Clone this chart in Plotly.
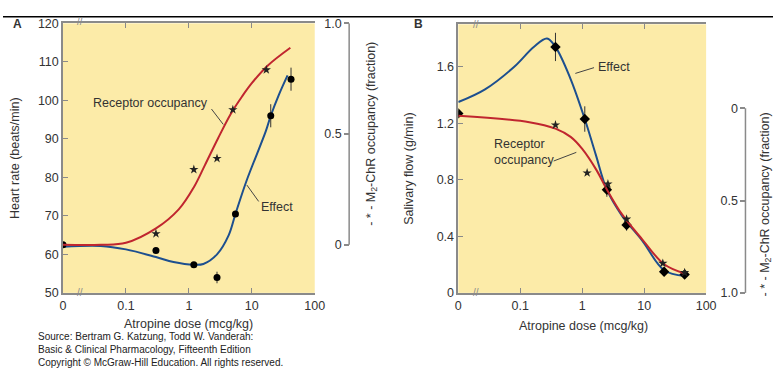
import plotly.graph_objects as go

W, H = 783, 374
ZERO = 0.01  # axis position used for the "0" dose (broken axis)

# ---------------- Panel A: heart rate ----------------
a_pts_dose = [0, 0.3, 1.2, 2.8, 5.5, 20, 42]
a_pts_hr = [62.5, 61, 57.3, 54, 70.5, 96, 105.5]
a_pts_err = [0.6, 0.6, 0.6, 1.5, 0.6, 3, 3]

a_star_dose = [0.3, 1.2, 2.8, 5, 17]
a_star_occ = [0.05, 0.34, 0.39, 0.61, 0.79]

a_red_dose = [0, 0.04, 0.1, 0.3, 0.69, 1.2, 1.8, 2.9, 4.6, 7, 10, 18, 41]
a_red_occ = [0, 0, 0.009, 0.074, 0.16, 0.26, 0.36, 0.48, 0.59, 0.67, 0.73, 0.81, 0.89]

a_blue_dose = [0, 0.04, 0.1, 0.3, 0.57, 1.2, 1.7, 2.8, 4.3, 5.5, 8.2, 16.7, 20, 27, 37]
a_blue_hr = [62.0, 62.2, 61.3, 59.3, 58, 57.3, 57.5, 60, 65, 70.5, 79, 92, 96, 101.5, 106.5]

# ---------------- Panel B: salivary flow ----------------
b_pts_dose = [0, 0.37, 1.1, 2.5, 5.2, 21, 45]
b_pts_flow = [1.27, 1.74, 1.23, 0.73, 0.48, 0.15, 0.13]
b_pts_err = [0.02, 0.1, 0.09, 0.05, 0.04, 0.03, 0.03]

b_star_dose = [0.37, 1.2, 2.6, 5.2, 20, 45]
b_star_occ = [0.09, 0.35, 0.41, 0.60, 0.84, 0.89]

b_red_dose = [0, 0.14, 0.37, 0.65, 1.0, 1.7, 2.5, 4.4, 9.3, 21, 45]
b_red_occ = [0.04, 0.075, 0.11, 0.155, 0.22, 0.335, 0.44, 0.575, 0.71, 0.845, 0.895]

b_blue_dose = [0, 0.027, 0.08, 0.165, 0.27, 0.37, 0.64, 1.1, 1.65, 2.5, 4.4, 9.3, 21, 45]
b_blue_flow = [1.35, 1.44, 1.60, 1.74, 1.80, 1.74, 1.52, 1.23, 0.98, 0.73, 0.545, 0.37, 0.16, 0.12]

x_tickvals = [0.01, 0.1, 1, 10, 100]
x_ticktext = ["0", "0.1", "1", "10", "100"]
a_yticks = [50, 60, 70, 80, 90, 100, 110, 120]
b_yticks = [0, 0.4, 0.8, 1.2, 1.6]
b_yticktext = ["0", "0.4", "0.8", "1.2", "1.6"]
occ_ticks = [0, 0.5, 1.0]
occ_ticktext = ["0", "0.5", "1.0"]


def pos(d):
    return [ZERO if v == 0 else v for v in d]


def px(x):
    return x / W


def py(y):
    return 1 - y / H


RED = "#C0262F"
BLUE = "#1D4F8F"
GRAY = "#8a8a8a"
TXT = "#333333"
FONT = "Liberation Sans, Arial, sans-serif"
FS = 12.5

fig = go.Figure()

# Panel A traces
fig.add_trace(go.Scatter(x=pos(a_blue_dose), y=a_blue_hr, mode="lines",
                         line=dict(color=BLUE, width=2, shape="spline"),
                         xaxis="x", yaxis="y", showlegend=False))
fig.add_trace(go.Scatter(x=pos(a_pts_dose), y=a_pts_hr, mode="markers",
                         marker=dict(color="black", size=7, symbol="circle"),
                         error_y=dict(type="data", array=a_pts_err, color="#333", thickness=1, width=0),
                         xaxis="x", yaxis="y", showlegend=False))
fig.add_trace(go.Scatter(x=pos(a_red_dose), y=a_red_occ, mode="lines",
                         line=dict(color=RED, width=2, shape="spline"),
                         xaxis="x", yaxis="y3", showlegend=False))
fig.add_trace(go.Scatter(x=pos(a_star_dose), y=a_star_occ, mode="markers",
                         marker=dict(color="#222", size=7, symbol="star"),
                         xaxis="x", yaxis="y3", showlegend=False))

# Panel B traces
fig.add_trace(go.Scatter(x=pos(b_blue_dose), y=b_blue_flow, mode="lines",
                         line=dict(color=BLUE, width=2, shape="spline"),
                         xaxis="x2", yaxis="y2", showlegend=False))
fig.add_trace(go.Scatter(x=pos(b_pts_dose), y=b_pts_flow, mode="markers",
                         marker=dict(color="black", size=8, symbol="diamond"),
                         error_y=dict(type="data", array=b_pts_err, color="#333", thickness=1, width=0),
                         xaxis="x2", yaxis="y2", showlegend=False))
fig.add_trace(go.Scatter(x=pos(b_red_dose), y=b_red_occ, mode="lines",
                         line=dict(color=RED, width=2, shape="spline"),
                         xaxis="x2", yaxis="y4", showlegend=False))
fig.add_trace(go.Scatter(x=pos(b_star_dose), y=b_star_occ, mode="markers",
                         marker=dict(color="#222", size=7, symbol="star"),
                         xaxis="x2", yaxis="y4", showlegend=False))

tickfont = dict(size=FS, color=TXT, family=FONT)
xcommon = dict(type="log", range=[-2, 2], tickvals=x_tickvals, ticktext=x_ticktext,
               showline=True, linecolor=GRAY, linewidth=1.5, mirror="ticks",
               ticks="inside", ticklen=5, tickcolor=GRAY, tickwidth=1,
               showgrid=False, zeroline=False, tickfont=tickfont)
ycommon = dict(showline=True, linecolor=GRAY, linewidth=1.5, mirror=False,
               ticks="inside", ticklen=5, tickcolor=GRAY, tickwidth=1,
               showgrid=False, zeroline=False, tickfont=tickfont)
occcommon = dict(showline=False, ticks="outside", ticklen=5, tickcolor=GRAY, tickwidth=1.5,
                 showgrid=False, zeroline=False, tickvals=occ_ticks, ticktext=occ_ticktext,
                 tickfont=tickfont, side="left", anchor="free")

fig.update_layout(
    width=W, height=H, autosize=False,
    margin=dict(l=0, r=0, t=0, b=0),
    paper_bgcolor="white", plot_bgcolor="#FCEBA8",
    font=dict(family=FONT, color=TXT, size=FS),
    xaxis=dict(domain=[px(61), px(317)], anchor="y", **xcommon),
    yaxis=dict(domain=[py(297), py(17)], anchor="x", range=[50, 120], tickvals=a_yticks, **ycommon),
    xaxis2=dict(domain=[px(463), px(715)], anchor="y2", **xcommon),
    yaxis2=dict(domain=[py(297), py(18)], anchor="x2", range=[0, 1.9], tickvals=b_yticks,
                ticktext=b_yticktext, **ycommon),
    yaxis3=dict(overlaying="y", position=px(352), range=[-0.217, 1.0], **occcommon),
    yaxis4=dict(overlaying="y2", position=px(755), range=[1.0, -0.455], **occcommon),
)

shapes = [
    dict(type="line", xref="paper", yref="paper", x0=0, x1=1, y0=py(10), y1=py(10),
         line=dict(color="black", width=1.5)),
    dict(type="line", xref="paper", yref="y3", x0=px(352), x1=px(352), y0=0, y1=1,
         line=dict(color=GRAY, width=1.5)),
    dict(type="line", xref="paper", yref="y4", x0=px(755), x1=px(755), y0=0, y1=1,
         line=dict(color=GRAY, width=1.5)),
    # leader lines
    dict(type="line", xref="paper", yref="paper", x0=px(212), x1=px(224), y0=py(106), y1=py(122),
         line=dict(color="#444", width=1)),
    dict(type="line", xref="paper", yref="paper", x0=px(248), x1=px(260), y0=py(185), y1=py(202),
         line=dict(color="#444", width=1)),
    dict(type="line", xref="paper", yref="paper", x0=px(582), x1=px(601), y0=py(69), y1=py(63),
         line=dict(color="#444", width=1)),
    dict(type="line", xref="paper", yref="paper", x0=px(560), x1=px(583), y0=py(160), y1=py(151),
         line=dict(color="#444", width=1)),
]


def ann(x, y, text, size=FS, angle=0, color=TXT, xanchor="center", align="center", bold=False):
    return dict(x=px(x), y=py(y), xref="paper", yref="paper", text=(f"<b>{text}</b>" if bold else text),
                showarrow=False, textangle=angle, xanchor=xanchor, yanchor="middle", align=align,
                font=dict(size=size, color=color, family=FONT))


annotations = [
    ann(15, 18, "A", size=12, bold=True),
    ann(423, 18, "B", size=12, bold=True),
    ann(12, 157, "Heart rate (beats/min)", angle=-90),
    ann(413, 168, "Salivary flow (g/min)", angle=-90),
    ann(375, 132, "- * - M<sub>2</sub>-ChR occupancy (fraction)", angle=-90),
    ann(776, 205, "- * - M<sub>2</sub>-ChR occupancy (fraction)", angle=-90),
    ann(189, 329, "Atropine dose (mcg/kg)"),
    ann(590, 331, "Atropine dose (mcg/kg)"),
    ann(150, 100, "Receptor occupancy"),
    ann(279, 208, "Effect"),
    ann(621, 62, "Effect"),
    ann(497, 151, "Receptor<br>occupancy", xanchor="left", align="left"),
    ann(78, 15, "//", size=10, color=GRAY),
    ann(78, 297, "//", size=10, color=GRAY),
    ann(481, 18, "//", size=10, color=GRAY),
    ann(481, 297, "//", size=10, color=GRAY),
    dict(x=px(34), y=py(356), xref="paper", yref="paper", showarrow=False, xanchor="left",
         yanchor="middle", align="left",
         text="Source: Bertram G. Katzung, Todd W. Vanderah:<br>Basic &amp; Clinical Pharmacology, Fifteenth Edition<br>Copyright © McGraw-Hill Education. All rights reserved.",
         font=dict(size=10, color="#222", family=FONT)),
]

fig.update_layout(shapes=shapes, annotations=annotations)
fig.write_html("out.html", config={"displayModeBar": False},
               post_script="document.body.style.margin='0';document.body.style.overflow='hidden';")
